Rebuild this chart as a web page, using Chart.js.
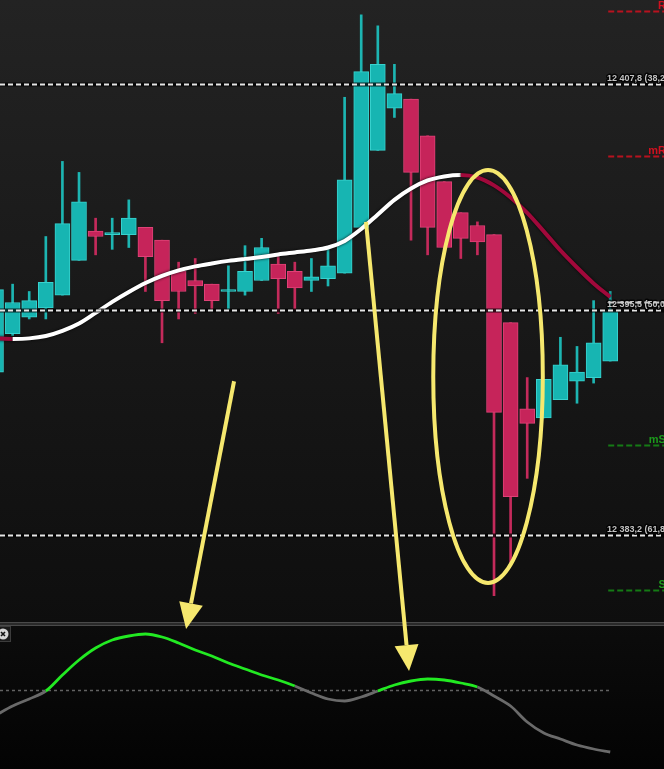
<!DOCTYPE html>
<html>
<head>
<meta charset="utf-8">
<script src="https://cdn.jsdelivr.net/npm/chart.js@4.4.1/dist/chart.umd.min.js"></script>
<style>
  html, body { margin: 0; padding: 0; background: #111; overflow: hidden; }
  canvas { display: block; }
</style>
</head>
<body>
<canvas id="chart" width="664" height="769"></canvas>
<script>
// bar positions (one per candle)
const barIndex = [0, 1, 2, 3, 4, 5, 6, 7, 8, 9, 10, 11, 12, 13, 14, 15, 16, 17, 18, 19,
  20, 21, 22, 23, 24, 25, 26, 27, 28, 29, 30, 31, 32, 33, 34, 35, 36, 37];

// prices
const opens = [12392.1, 12394.2, 12395.1, 12395.6, 12396.3, 12398.2, 12399.8, 12399.6, 12399.6, 12400.0,
  12399.3, 12397.6, 12397.1, 12396.9, 12396.5, 12396.5, 12397.1, 12398.0, 12397.6, 12397.1,
  12397.2, 12397.5, 12400.0, 12404.2, 12406.5, 12407.0, 12405.0, 12402.5, 12400.8, 12400.1,
  12399.6, 12394.8, 12390.1, 12389.6, 12390.6, 12391.6, 12391.8, 12392.7];
const highs = [12396.9, 12396.9, 12396.5, 12399.5, 12403.6, 12403.0, 12400.5, 12400.5, 12401.5, 12400.0,
  12399.3, 12398.1, 12398.3, 12396.9, 12397.9, 12399.0, 12399.4, 12398.4, 12398.1, 12398.3,
  12398.8, 12407.1, 12411.6, 12411.0, 12408.9, 12407.0, 12405.0, 12402.5, 12400.8, 12400.3,
  12399.6, 12394.8, 12391.8, 12391.7, 12394.0, 12393.5, 12396.0, 12396.5];
const lows = [12391.9, 12394.1, 12395.0, 12395.0, 12396.3, 12398.2, 12398.5, 12398.8, 12398.9, 12396.5,
  12393.7, 12395.0, 12395.3, 12395.5, 12395.5, 12396.3, 12397.1, 12395.3, 12395.5, 12396.5,
  12396.8, 12397.5, 12400.0, 12404.2, 12406.0, 12399.3, 12398.5, 12398.8, 12398.3, 12398.5,
  12379.9, 12381.7, 12386.3, 12389.6, 12390.6, 12390.4, 12391.5, 12392.7];
const closes = [12396.6, 12395.9, 12396.0, 12397.0, 12400.2, 12401.4, 12399.5, 12399.7, 12400.5, 12398.4,
  12396.0, 12396.5, 12396.8, 12396.0, 12396.6, 12397.6, 12398.9, 12397.2, 12396.7, 12397.3,
  12397.9, 12402.6, 12408.5, 12408.9, 12407.3, 12403.0, 12400.0, 12398.9, 12399.4, 12399.2,
  12389.9, 12385.3, 12389.3, 12391.7, 12392.5, 12392.1, 12393.7, 12395.4];

// moving average
const maValues = [12393.94, 12393.91, 12393.94, 12394.07, 12394.35, 12394.75, 12395.33, 12395.93, 12396.47, 12396.96,
  12397.35, 12397.65, 12397.87, 12398.03, 12398.17, 12398.28, 12398.38, 12398.52, 12398.63, 12398.74,
  12398.90, 12399.26, 12399.91, 12400.70, 12401.50, 12402.12, 12402.56, 12402.78, 12402.86, 12402.72,
  12402.29, 12401.63, 12400.79, 12399.78, 12398.74, 12397.81, 12396.94, 12396.20];

// oscillator in the lower pane
const oscValues = [-12.5, -8, -4.5, -0.5, 7.5, 15, 21, 25, 27, 28,
  26.5, 23.5, 20, 17, 13.5, 10.5, 7.5, 5, 2, -1.5,
  -4.5, -5.5, -3.5, -0.5, 2.5, 4.5, 5.5, 5, 3.5, 1.5,
  -3, -8, -16, -21.5, -24.5, -27.5, -29.5, -31];

// fibonacci levels
const fibLevels = [12407.8, 12395.5, 12383.2];
const fibLabels = ["12 407,8 (38,2%)", "12 395,5 (50,0%)", "12 383,2 (61,8%)"];

// pivot levels
const pivotLevels = [12411.8, 12403.9, 12395.9, 12388.1, 12380.2];
const pivotLabels = ["R1", "mR1", "P", "mS1", "S1"];

// hand-drawn marks (in data units)
const oval = { x: 29.64, price: 12391.86, rx: 3.3, ry: 11.27 };
const arrows = [
  { fromX: 14.34, fromPrice: 12391.6, toX: 11.45, toOsc: 30.5 },
  { fromX: 22.29, fromPrice: 12400.3, toX: 24.88, toOsc: 9.5 }
];

const TEAL = '#17b5b2', TEAL_EDGE = '#38d2ce', TEAL_WICK = '#1db5b2';
const RED = '#c6245a', RED_EDGE = '#df4277', RED_WICK = '#c42a5b';
const isUp = barIndex.map((x, i) => closes[i] >= opens[i]);

const wickData = barIndex.map((x, i) => ({ x: x, y: [lows[i], highs[i]] }));
const bodyData = barIndex.map((x, i) => ({ x: x, y: [opens[i], closes[i]] }));
const maData = barIndex.map((x, i) => ({ x: x, y: maValues[i] }));
const oscData = barIndex.map((x, i) => ({ x: x, y: oscValues[i] }));

const chartPlugin = {
  id: 'tradingLook',
  beforeDraw(chart) {
    const ctx = chart.ctx;
    const y = chart.scales.y, y2 = chart.scales.y2;
    const w = chart.width;
    let g = ctx.createLinearGradient(0, y.top, 0, y.bottom);
    g.addColorStop(0, '#232323');
    g.addColorStop(1, '#0e0e0e');
    ctx.fillStyle = g;
    ctx.fillRect(0, y.top, w, y.bottom - y.top);
    g = ctx.createLinearGradient(0, y2.top, 0, y2.bottom);
    g.addColorStop(0, '#0c0c0c');
    g.addColorStop(1, '#030303');
    ctx.fillStyle = g;
    ctx.fillRect(0, y2.top, w, y2.bottom - y2.top);

    // pane separator
    ctx.fillStyle = '#2a2a2a';
    ctx.fillRect(0, y.bottom - 2, w, 4);
    ctx.fillStyle = '#4a4a4a';
    ctx.fillRect(0, y.bottom - 2, w, 1);
    ctx.fillRect(0, y.bottom + 1, w, 1);

    // zero line of the oscillator
    const x = chart.scales.x;
    const zy = Math.round(y2.getPixelForValue(0)) + 0.5;
    ctx.save();
    ctx.strokeStyle = '#626262';
    ctx.lineWidth = 1.5;
    ctx.setLineDash([3, 3]);
    ctx.beginPath();
    ctx.moveTo(0, zy);
    ctx.lineTo(x.getPixelForValue(barIndex[barIndex.length - 1]), zy);
    ctx.stroke();
    ctx.restore();
  },
  beforeDatasetDraw(chart, args) {
    if (args.index === 2) {
      chart.ctx.shadowColor = 'rgba(0,0,0,0.9)';
      chart.ctx.shadowBlur = 3;
    }
  },
  afterDatasetDraw(chart, args) {
    chart.ctx.shadowColor = 'rgba(0,0,0,0)';
    chart.ctx.shadowBlur = 0;
  },
  afterDatasetsDraw(chart) {
    const ctx = chart.ctx;
    const x = chart.scales.x, y = chart.scales.y;
    const w = chart.width;
    ctx.save();
    ctx.font = "bold 9px 'Liberation Sans', Arial, sans-serif";
    ctx.textBaseline = 'alphabetic';
    ctx.lineJoin = 'round';

    // fibonacci lines
    fibLevels.forEach((lv, i) => {
      const py = Math.round(y.getPixelForValue(lv)) + 0.5;
      ctx.setLineDash([]);
      ctx.strokeStyle = 'rgba(0,0,0,0.75)';
      ctx.lineWidth = 4;
      ctx.beginPath(); ctx.moveTo(0, py); ctx.lineTo(w, py); ctx.stroke();
      ctx.setLineDash([5, 3]);
      ctx.strokeStyle = '#e6e6e6';
      ctx.lineWidth = 2;
      ctx.beginPath(); ctx.moveTo(0, py); ctx.lineTo(w, py); ctx.stroke();
      ctx.setLineDash([]);
      ctx.lineWidth = 3;
      ctx.strokeStyle = 'rgba(0,0,0,0.8)';
      ctx.strokeText(fibLabels[i], 607, py - 3.5);
      ctx.fillStyle = '#c2c2c2';
      ctx.fillText(fibLabels[i], 607, py - 3.5);
    });

    // pivot lines, from the last bar to the right edge
    const startX = x.getPixelForValue(barIndex[barIndex.length - 1]) - 2;
    const lineCols = ['#b8121f', '#b8121f', '#c8c8c8', '#157a15', '#157a15'];
    const textCols = ['#d0101f', '#d0101f', '#d8d8d8', '#1c9a1c', '#1c9a1c'];
    ctx.font = "bold 11px 'Liberation Sans', Arial, sans-serif";
    ctx.textAlign = 'right';
    pivotLevels.forEach((lv, i) => {
      const py = Math.round(y.getPixelForValue(lv)) + 0.5;
      ctx.setLineDash([6, 3]);
      ctx.strokeStyle = lineCols[i];
      ctx.lineWidth = 2;
      ctx.beginPath(); ctx.moveTo(startX, py); ctx.lineTo(w, py); ctx.stroke();
      ctx.setLineDash([]);
      ctx.fillStyle = textCols[i];
      ctx.fillText(pivotLabels[i], w + 8, py - 2.5);
    });
    ctx.restore();
  },
  afterDraw(chart) {
    const ctx = chart.ctx;
    const x = chart.scales.x, y = chart.scales.y, y2 = chart.scales.y2;
    ctx.save();
    // close button of the lower pane
    ctx.fillStyle = '#1b1b1b';
    ctx.strokeStyle = '#3c3c3c';
    ctx.lineWidth = 1;
    ctx.fillRect(-4, y2.top + 2, 15, 15);
    ctx.strokeRect(-4.5, y2.top + 2.5, 15, 15);
    ctx.fillStyle = '#d4d4d4';
    ctx.beginPath(); ctx.arc(3, y2.top + 10, 5.5, 0, Math.PI * 2); ctx.fill();
    ctx.strokeStyle = '#111';
    ctx.lineWidth = 1.6;
    ctx.beginPath();
    ctx.moveTo(1, y2.top + 8); ctx.lineTo(5, y2.top + 12);
    ctx.moveTo(5, y2.top + 8); ctx.lineTo(1, y2.top + 12);
    ctx.stroke();

    // yellow hand-drawn marks
    ctx.strokeStyle = '#f6e86e';
    ctx.fillStyle = '#f6e86e';
    ctx.lineWidth = 4;
    const cx = x.getPixelForValue(oval.x), cy = y.getPixelForValue(oval.price);
    const rx = x.getPixelForValue(oval.x + oval.rx) - cx;
    const ry = cy - y.getPixelForValue(oval.price + oval.ry);
    ctx.beginPath(); ctx.ellipse(cx, cy, rx, ry, 0, 0, Math.PI * 2); ctx.stroke();

    arrows.forEach(a => {
      const x0 = x.getPixelForValue(a.fromX), y0 = y.getPixelForValue(a.fromPrice);
      const x1 = x.getPixelForValue(a.toX), y1 = y2.getPixelForValue(a.toOsc);
      const ang = Math.atan2(y1 - y0, x1 - x0);
      const headLen = 26, headHalf = 12;
      const bx = x1 - headLen * Math.cos(ang), by = y1 - headLen * Math.sin(ang);
      ctx.beginPath(); ctx.moveTo(x0, y0); ctx.lineTo(bx, by); ctx.stroke();
      ctx.beginPath();
      ctx.moveTo(x1, y1);
      ctx.lineTo(bx + headHalf * Math.sin(ang), by - headHalf * Math.cos(ang));
      ctx.lineTo(bx - headHalf * Math.sin(ang), by + headHalf * Math.cos(ang));
      ctx.closePath();
      ctx.fill();
    });
    ctx.restore();
  }
};

const ctx = document.getElementById('chart').getContext('2d');
const chart = new Chart(ctx, {
  type: 'bar',
  data: {
    datasets: [{
      label: 'wick',
      data: wickData,
      yAxisID: 'y',
      backgroundColor: isUp.map(u => u ? TEAL_WICK : RED_WICK),
      barThickness: 2,
      grouped: false,
      borderWidth: 0,
      order: 5
    }, {
      label: 'body',
      data: bodyData,
      yAxisID: 'y',
      backgroundColor: isUp.map(u => u ? TEAL : RED),
      borderColor: isUp.map(u => u ? TEAL_EDGE : RED_EDGE),
      borderWidth: 1,
      borderSkipped: false,
      barThickness: 15,
      minBarLength: 2,
      grouped: false,
      order: 4
    }, {
      type: 'line',
      label: 'MA',
      data: maData,
      yAxisID: 'y',
      borderWidth: 4,
      borderColor: '#ffffff',
      pointRadius: 0,
      cubicInterpolationMode: 'monotone',
      segment: {
        borderColor: c => c.p1.parsed.y < c.p0.parsed.y ? '#a1093b' : '#ffffff'
      },
      order: 2
    }, {
      type: 'line',
      label: 'Oscillator',
      data: oscData,
      yAxisID: 'y2',
      borderWidth: 2.8,
      borderColor: '#6a6a6a',
      pointRadius: 0,
      cubicInterpolationMode: 'monotone',
      segment: {
        borderColor: c => c.p1.parsed.y > 0 ? '#22ea22' : '#6a6a6a'
      },
      order: 1
    }]
  },
  options: {
    responsive: false,
    animation: false,
    devicePixelRatio: 1,
    events: [],
    layout: { padding: 0 },
    plugins: {
      legend: { display: false },
      tooltip: { enabled: false }
    },
    scales: {
      x: { type: 'linear', min: 0.24, max: 40.24, offset: false, display: false },
      // lower pane first: chart.js stacks the later axis on top
      y2: { type: 'linear', min: -39.5, max: 33, display: false, stack: 'panes', stackWeight: 145 },
      y: { type: 'linear', min: 12378.35, max: 12412.41, display: false, stack: 'panes', stackWeight: 624 }
    }
  },
  plugins: [chartPlugin]
});
</script>
</body>
</html>
